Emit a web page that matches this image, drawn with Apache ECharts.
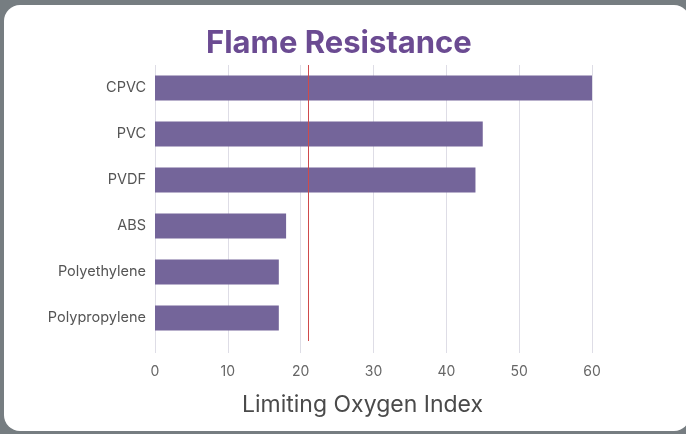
<!DOCTYPE html>
<html>
<head>
<meta charset="utf-8">
<script src="https://cdn.jsdelivr.net/npm/echarts@6/dist/echarts.min.js"></script>
<style>
  html, body { margin: 0; padding: 0; background: #767d81; }
  #card { position: absolute; left: 4px; top: 5px; width: 686px; height: 426px; background: #fff; border-radius: 16px; }
  #box { position: absolute; left: 0; top: 0; width: 686px; height: 434px; }
</style>
</head>
<body>
<div id="card"></div>
<div id="box"></div>
<script>
var materials = ['CPVC', 'PVC', 'PVDF', 'ABS', 'Polyethylene', 'Polypropylene']
var oxygenIndex = [60, 45, 44, 18, 17, 17]
var airOxygen = 21
var xTicks = { min: 0, max: 60, step: 10 }

var chart = echarts.init(document.getElementById('box'))

chart.setOption({
    textStyle: { fontFamily: 'Inter' },
    title: {
        text: 'Flame Resistance',
        left: 201,
        top: 23,
        textStyle: {
            color: '#6b4b92',
            fontSize: 31,
            fontWeight: 'bold',
            fontFamily: 'Inter'
        }
    },
    grid: {
        left: 155,
        right: 94,
        top: 65,
        bottom: 93
    },
    xAxis: {
        type: 'value',
        min: xTicks.min,
        max: xTicks.max,
        interval: xTicks.step,
        name: 'Limiting Oxygen Index',
        nameLocation: 'middle',
        nameGap: 53,
        nameTextStyle: {
            color: '#4a4a4a',
            fontSize: 23,
            padding: [0, 22, 0, 0]
        },
        axisLine: { show: false },
        axisTick: {
            show: true,
            length: 12,
            lineStyle: { color: '#dedde6' }
        },
        axisLabel: {
            color: '#666',
            fontSize: 14,
            margin: 24
        },
        splitLine: {
            lineStyle: { color: '#dedde6', width: 1 }
        }
    },
    yAxis: {
        type: 'category',
        inverse: true,
        data: materials,
        axisLine: { show: false },
        axisTick: { show: false },
        axisLabel: {
            color: '#555',
            fontSize: 14.5,
            margin: 9
        },
        splitLine: { show: false }
    },
    series: [{
        name: 'LOI',
        type: 'bar',
        data: oxygenIndex,
        barWidth: 25,
        itemStyle: { color: '#74659a' },
        markLine: {
            silent: true,
            symbol: 'none',
            label: { show: false },
            lineStyle: { color: '#cf4b4b', width: 1, type: 'solid' },
            data: [{ xAxis: airOxygen }]
        }
    }]
})
</script>
</body>
</html>
